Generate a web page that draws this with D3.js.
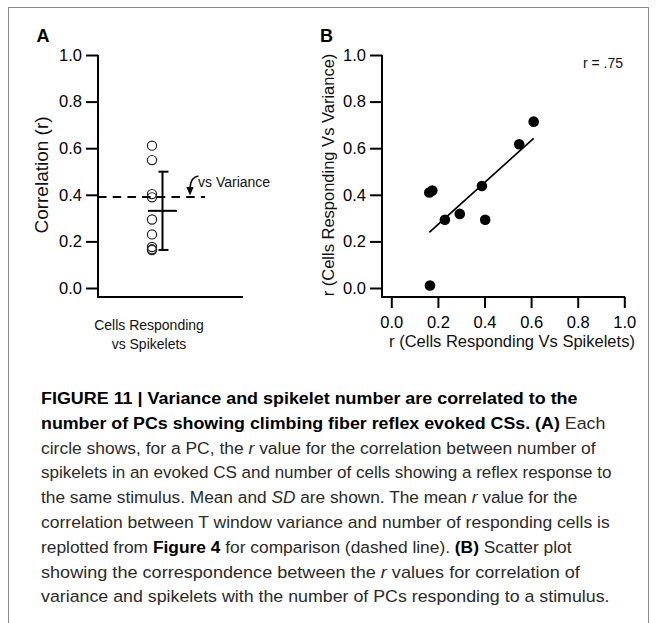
<!DOCTYPE html>
<html><head><meta charset="utf-8">
<script src="https://cdn.jsdelivr.net/npm/d3@7/dist/d3.min.js"></script>
<style>
body{margin:0;background:#fff}
svg{display:block}
text{font-family:"Liberation Sans",Arial,Helvetica,sans-serif;white-space:pre}
</style>
</head><body>
<svg id="c" width="657" height="623"></svg>
<script>
// ---------------- DATA ----------------
// r (cells responding vs spikelets) for each PC
const spikeletR = [0.166, 0.163, 0.176, 0.230, 0.294, 0.389, 0.403, 0.549, 0.611];
// r (cells responding vs variance) for each PC
const varianceR = [0.011, 0.410, 0.418, 0.293, 0.318, 0.438, 0.293, 0.617, 0.714];
const yTicks = [0, 0.2, 0.4, 0.6, 0.8, 1.0];
const xTicks = [0, 0.2, 0.4, 0.6, 0.8, 1.0];
const categoryA = ["Cells Responding vs Spikelets"];
const categoryLabelLines = ["Cells Responding", "vs Spikelets"];
const yTitleA = "Correlation (r)";
const xTitleB = "r (Cells Responding Vs Spikelets)";
const yTitleB = "r (Cells Responding Vs Variance)";
const rLabel = "r = .75";
const annotation = "vs Variance";
const panelLetters = ["A", "B"];
const caption = [
  [["FIGURE 11 | Variance and spikelet number are correlated to the", "b"]],
  [["number of PCs showing climbing fiber reflex evoked CSs. (A)", "b"], [" Each", "n"]],
  [["circle shows, for a PC, the ", "n"], ["r", "i"], [" value for the correlation between number of", "n"]],
  [["spikelets in an evoked CS and number of cells showing a reflex response to", "n"]],
  [["the same stimulus. Mean and ", "n"], ["SD", "i"], [" are shown. The mean ", "n"], ["r", "i"], [" value for the", "n"]],
  [["correlation between T window variance and number of responding cells is", "n"]],
  [["replotted from ", "n"], ["Figure 4", "b"], [" for comparison (dashed line). ", "n"], ["(B)", "b"], [" Scatter plot", "n"]],
  [["showing the correspondence between the ", "n"], ["r", "i"], [" values for correlation of", "n"]],
  [["variance and spikelets with the number of PCs responding to a stimulus.", "n"]]
];

// ---------------- LAYOUT ----------------
const svg = d3.select("#c");
const TOP = 55, ZERO = 288, AXIS_Y = 296;
const yScale = d3.scaleLinear().domain([0, 1]).range([ZERO, TOP]);

// frame
svg.append("rect").attr("x", 8.5).attr("y", 7.5).attr("width", 640).attr("height", 640)
  .attr("fill", "none").attr("stroke", "#8a8a8a").attr("stroke-width", 1);

function styleAxis(g, fs) {
  g.attr("font-size", null).attr("font-family", null);
  g.select(".domain").remove();
  g.selectAll(".tick line").attr("stroke", "#000").attr("stroke-width", 2);
  g.selectAll(".tick text").attr("fill", "#000").style("font-size", fs + "px")
    .style("font-family", '"Liberation Sans",Arial,sans-serif');
}

// ===== Panel A =====
const axA = 98;
const xA = d3.scalePoint().domain(categoryA).range([axA, 206]).padding(0.5);
const gA = svg.append("g");
const yAxA = gA.append("g").attr("transform", `translate(${axA},0)`)
  .call(d3.axisLeft(yScale).tickValues(yTicks).tickFormat(d3.format(".1f")).tickSize(12).tickPadding(4));
styleAxis(yAxA, 16.5);
gA.append("path").attr("d", d3.line()([[axA, TOP], [axA, AXIS_Y + 1], [243, AXIS_Y + 1]]))
  .attr("fill", "none").attr("stroke", "#000").attr("stroke-width", 2);

const cx = xA(categoryA[0]);
// circles
gA.selectAll("circle.pt").data(spikeletR).join("circle").attr("class", "pt")
  .attr("cx", cx).attr("cy", d => yScale(d)).attr("r", 4.6)
  .attr("fill", "none").attr("stroke", "#222").attr("stroke-width", 1.2);

// mean & SD
const mA = d3.mean(spikeletR), sdA = d3.deviation(spikeletR);
const ebx = cx + 10.5;
gA.append("line").attr("x1", ebx).attr("x2", ebx).attr("y1", yScale(mA + sdA)).attr("y2", yScale(mA - sdA))
  .attr("stroke", "#000").attr("stroke-width", 2);
[mA + sdA, mA - sdA].forEach(v => gA.append("line").attr("x1", ebx - 4).attr("x2", ebx + 6)
  .attr("y1", yScale(v)).attr("y2", yScale(v)).attr("stroke", "#000").attr("stroke-width", 2));
gA.append("line").attr("x1", ebx - 14.5).attr("x2", ebx + 14.5).attr("y1", yScale(mA)).attr("y2", yScale(mA))
  .attr("stroke", "#000").attr("stroke-width", 2);

// dashed mean variance r
const mV = d3.mean(varianceR);
gA.append("line").attr("x1", axA).attr("x2", 205).attr("y1", yScale(mV)).attr("y2", yScale(mV))
  .attr("stroke", "#000").attr("stroke-width", 2).attr("stroke-dasharray", "8.5,6.2");

// annotation arrow
gA.append("path").attr("d", "M198.5,176 Q190.5,177 190,188").attr("fill", "none")
  .attr("stroke", "#000").attr("stroke-width", 1.6);
gA.append("path").attr("d", "M186.3,187 L193.7,187 L190,195.5 Z").attr("fill", "#000");
gA.append("text").attr("x", 198).attr("y", 186.5).style("font-size", "14px").attr("fill", "#111").text(annotation);

// labels
gA.append("text").attr("transform", `translate(48,175) rotate(-90)`).attr("text-anchor", "middle")
  .style("font-size", "19px").attr("fill", "#111").text(yTitleA);
categoryLabelLines.forEach((t, i) => gA.append("text").attr("x", cx - 3).attr("y", 330 + i * 19)
  .attr("text-anchor", "middle").style("font-size", "14px").attr("fill", "#111").text(t));
gA.append("text").attr("x", 36.5).attr("y", 42).style("font-size", "18px").style("font-weight", "bold").text(panelLetters[0]);

// ===== Panel B =====
const axB = 382;
const xB = d3.scaleLinear().domain([0, 1]).range([391.3, 624.3]);
const gB = svg.append("g");
const yAxB = gB.append("g").attr("transform", `translate(${axB},0)`)
  .call(d3.axisLeft(yScale).tickValues(yTicks).tickFormat(d3.format(".1f")).tickSize(12).tickPadding(4));
styleAxis(yAxB, 16.5);
const xAxB = gB.append("g").attr("transform", `translate(0,${AXIS_Y + 1})`)
  .call(d3.axisBottom(xB).tickValues(xTicks).tickFormat(d3.format(".1f")).tickSize(11).tickPadding(8));
styleAxis(xAxB, 16.5);
gB.append("path").attr("d", d3.line()([[axB, TOP], [axB, AXIS_Y + 1], [xB(1) + 1, AXIS_Y + 1]]))
  .attr("fill", "none").attr("stroke", "#000").attr("stroke-width", 2);

// regression
const mx = d3.mean(spikeletR), my = d3.mean(varianceR);
let sxy = 0, sxx = 0;
spikeletR.forEach((x, i) => { sxy += (x - mx) * (varianceR[i] - my); sxx += (x - mx) * (x - mx); });
const slope = sxy / sxx, icpt = my - slope * mx;
const [xmin, xmax] = d3.extent(spikeletR);
gB.append("line").attr("x1", xB(xmin)).attr("x2", xB(xmax))
  .attr("y1", yScale(icpt + slope * xmin)).attr("y2", yScale(icpt + slope * xmax))
  .attr("stroke", "#000").attr("stroke-width", 1.7);

gB.selectAll("circle.pt").data(spikeletR.map((x, i) => [x, varianceR[i]])).join("circle").attr("class", "pt")
  .attr("cx", d => xB(d[0])).attr("cy", d => yScale(d[1])).attr("r", 5.3).attr("fill", "#000");

gB.append("text").attr("x", 583).attr("y", 68).style("font-size", "14px").attr("fill", "#111").text(rLabel);
gB.append("text").attr("x", 512).attr("y", 347).attr("text-anchor", "middle").style("font-size", "16.5px")
  .attr("fill", "#111").text(xTitleB);
gB.append("text").attr("transform", `translate(334,175) rotate(-90)`).attr("text-anchor", "middle")
  .style("font-size", "16.5px").attr("fill", "#111").text(yTitleB);
gB.append("text").attr("x", 320).attr("y", 42).style("font-size", "18px").style("font-weight", "bold").text(panelLetters[1]);

// ===== Caption =====
const capX = 41, capY0 = 404, capDy = 24.8;
const capEnds = [578, 606, 596, 612, 578, 610, 572, 580, 610];
caption.forEach((segs, i) => {
  const t = svg.append("text").attr("x", 0).attr("y", 0).style("font-size", "17px");
  segs.forEach(([s, st]) => {
    t.append("tspan").text(s)
      .style("font-weight", st === "b" ? "bold" : "normal")
      .style("font-style", st === "i" ? "italic" : "normal")
      .attr("fill", st === "b" ? "#000" : "#2a2a2a");
  });
  const w = t.node().getComputedTextLength();
  const k = (capEnds[i] - capX) / w;
  t.attr("transform", `translate(${capX},${capY0 + i * capDy}) scale(${k},1)`);
});
</script>
</body></html>
